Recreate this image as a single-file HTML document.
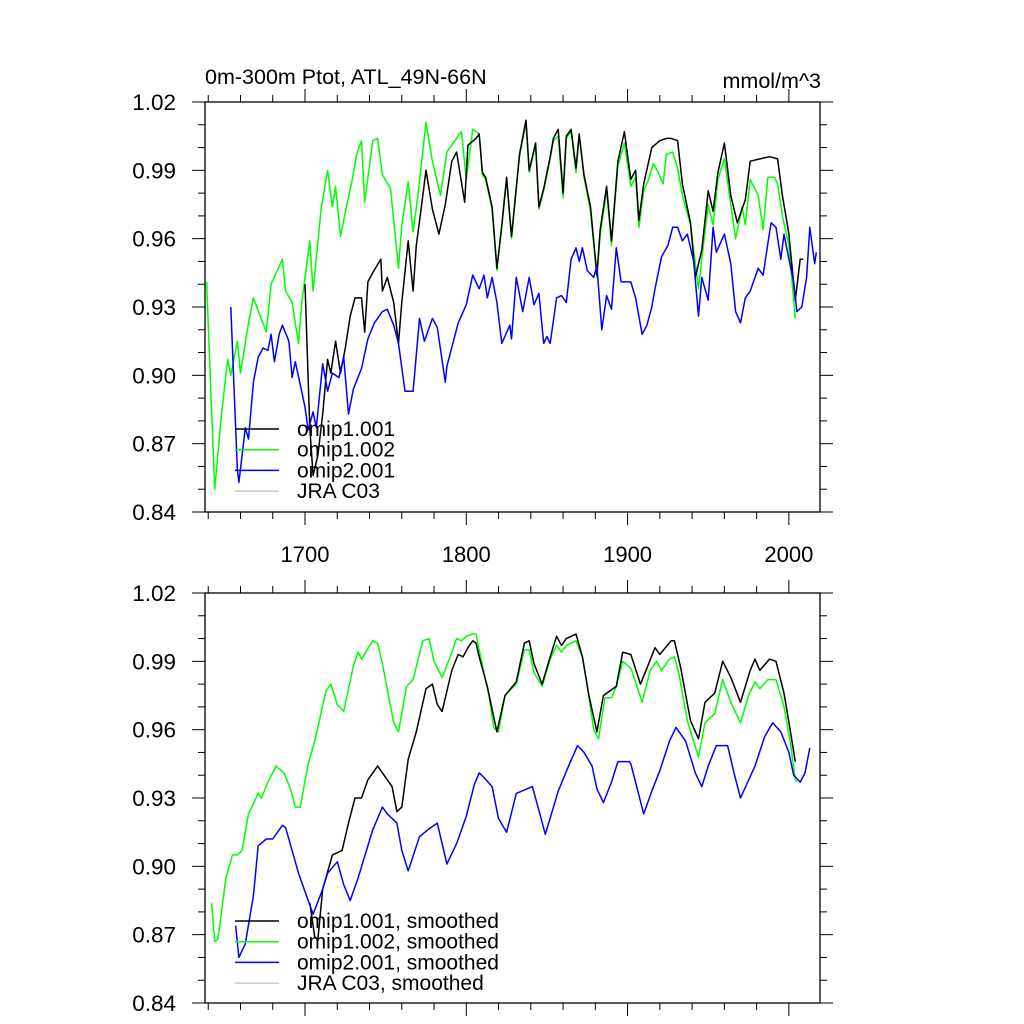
<!DOCTYPE html>
<html><head><meta charset="utf-8">
<style>
html,body{margin:0;padding:0;background:#fff;}
svg{display:block;font-family:"Liberation Sans",Arial,sans-serif;}
</style></head>
<body>
<svg id="chart" width="1024" height="1024" viewBox="0 0 1024 1024">
<text x="205" y="84" font-size="21.5">0m-300m Ptot, ATL_49N-66N</text>
<text x="821" y="88" font-size="21.5" text-anchor="end">mmol/m^3</text>
<g id="top"></g>
<g id="bot"></g>
</svg>
<script>
const yTicks=[0.84,0.87,0.90,0.93,0.96,0.99,1.02];
const yTickLabels=["0.84","0.87","0.90","0.93","0.96","0.99","1.02"];
const xTicks=[1700,1800,1900,2000];
const xTickLabels=["1700","1800","1900","2000"];

const topGreenYears=[1639,1644,1648,1652,1654,1658,1660,1665,1668,1676,1679,1686,1688,1692,1696,1698,1703,1705,1710,1714,1717,1719,1722,1726,1729,1732,1735,1737,1742,1745,1748,1753,1758,1760,1764,1767,1770,1775,1779,1784,1788,1793,1797,1800,1804,1808,1810,1812,1816,1819,1822,1825,1828,1833,1837,1839,1843,1845,1848,1852,1854,1857,1860,1862,1865,1868,1870,1873,1877,1881,1883,1887,1890,1894,1898,1902,1905,1907,1910,1913,1916,1919,1922,1924,1928,1931,1934,1939,1944,1946,1950,1953,1956,1960,1964,1967,1971,1973,1976,1981,1984,1987,1991,1993,1996,2000,2004];
const topGreenVals=[.941,.850,.881,.907,.900,.915,.901,.923,.934,.919,.940,.951,.937,.932,.914,.932,.959,.937,.973,.990,.974,.983,.961,.975,.985,.997,1.003,.976,1.003,1.004,.988,.982,.947,.966,.985,.963,.979,1.011,.994,.979,.998,1.003,1.007,.986,1.008,1.006,.988,.986,.973,.946,.965,.986,.960,.996,1.011,.989,1.001,.973,.981,.995,1.003,1.005,.978,1.004,1.007,.989,1.005,.987,.972,.943,.962,.981,.957,.992,1.002,.983,.987,.965,.981,.986,.993,.989,.984,.997,.998,.991,.979,.966,.938,.951,.975,.966,.986,.995,.975,.960,.974,.966,.986,.979,.964,.987,.987,.984,.970,.957,.925];

const topBlackYears=[1700,1703,1705,1708,1711,1714,1716,1719,1722,1725,1728,1731,1735,1737,1739,1742,1747,1748,1751,1755,1758,1760,1764,1767,1769,1772,1775,1779,1783,1787,1791,1794,1799,1801,1806,1808,1810,1812,1816,1819,1822,1825,1828,1833,1837,1839,1843,1845,1848,1852,1854,1857,1860,1862,1865,1868,1870,1873,1877,1881,1883,1887,1890,1894,1898,1902,1905,1907,1910,1915,1920,1924,1927,1931,1934,1939,1942,1946,1950,1953,1956,1960,1964,1968,1973,1976,1982,1988,1993,1996,2000,2004,2007,2009];
const topBlackVals=[.940,.877,.856,.865,.883,.907,.901,.915,.901,.912,.926,.934,.934,.919,.941,.945,.951,.937,.943,.932,.914,.932,.959,.937,.957,.973,.990,.973,.962,.975,.994,.998,.976,1.001,1.004,1.006,.989,.987,.974,.947,.966,.987,.961,.997,1.012,.990,1.002,.974,.982,.996,1.004,1.008,.980,1.005,1.008,.991,1.006,.988,.974,.944,.964,.983,.959,.994,1.007,.986,.990,.968,.984,1.000,1.003,1.004,1.004,1.003,.984,.967,.943,.955,.981,.972,.989,1.002,.979,.967,.977,.994,.995,.996,.995,.979,.962,.933,.951,.951];

const topBlueYears=[1654,1658,1659,1663,1665,1668,1671,1674,1677,1679,1681,1684,1686,1690,1692,1694,1697,1700,1702,1705,1707,1711,1714,1717,1721,1724,1727,1730,1735,1739,1743,1748,1751,1755,1758,1762,1767,1771,1774,1779,1782,1787,1788,1795,1800,1804,1808,1811,1813,1816,1819,1822,1827,1828,1831,1835,1839,1842,1845,1848,1850,1852,1856,1859,1862,1865,1868,1870,1872,1875,1879,1881,1884,1887,1890,1893,1896,1902,1905,1909,1912,1915,1917,1921,1925,1928,1931,1934,1937,1941,1944,1946,1950,1953,1955,1960,1964,1967,1970,1973,1976,1981,1984,1987,1989,1992,1995,1997,2000,2003,2005,2008,2011,2013,2016,2017];
const topBlueVals=[.930,.859,.853,.877,.872,.897,.908,.912,.911,.918,.906,.918,.922,.915,.899,.906,.896,.886,.876,.884,.877,.905,.893,.901,.899,.908,.883,.894,.903,.916,.923,.928,.929,.922,.914,.893,.893,.925,.915,.925,.921,.897,.904,.923,.931,.944,.938,.944,.934,.943,.932,.914,.922,.916,.943,.928,.943,.931,.936,.914,.917,.914,.934,.935,.932,.951,.956,.950,.956,.946,.943,.948,.920,.935,.929,.956,.941,.941,.934,.918,.922,.930,.938,.952,.957,.965,.965,.959,.962,.950,.926,.943,.933,.965,.954,.962,.949,.928,.923,.934,.937,.947,.944,.958,.967,.965,.951,.962,.951,.941,.928,.930,.943,.965,.949,.954];

const botGreenYears=[1642,1644,1646,1651,1655,1658,1661,1665,1671,1673,1677,1682,1687,1691,1694,1697,1702,1706,1713,1716,1720,1724,1730,1733,1735,1742,1745,1748,1755,1758,1763,1767,1773,1777,1780,1785,1790,1794,1797,1800,1804,1806,1808,1811,1814,1817,1820,1824,1828,1831,1836,1839,1842,1847,1852,1856,1859,1862,1868,1872,1875,1879,1882,1886,1890,1893,1897,1902,1905,1909,1914,1918,1921,1926,1929,1932,1937,1944,1948,1954,1959,1964,1970,1975,1979,1982,1987,1992,1997,2001,2004,2005];
const botGreenVals=[.884,.867,.868,.895,.905,.905,.907,.923,.932,.930,.937,.944,.941,.934,.926,.926,.945,.955,.977,.980,.971,.968,.988,.994,.991,.999,.998,.989,.963,.959,.979,.982,.999,1.000,.990,.983,.992,1.000,.999,1.001,1.002,1.002,.995,.985,.975,.961,.959,.975,.978,.980,.995,.995,.985,.979,.991,.997,.994,.997,.999,.992,.979,.960,.956,.974,.974,.979,.990,.987,.981,.972,.986,.990,.986,.991,.992,.984,.964,.948,.963,.967,.982,.972,.963,.975,.981,.978,.982,.982,.970,.954,.938,.937];

const botBlackYears=[1703,1706,1708,1711,1717,1723,1727,1731,1735,1739,1745,1748,1754,1757,1760,1764,1769,1775,1779,1782,1785,1791,1795,1798,1801,1804,1806,1808,1813,1819,1824,1831,1836,1839,1842,1847,1852,1856,1859,1862,1868,1872,1876,1881,1885,1893,1897,1902,1908,1912,1917,1920,1927,1929,1933,1939,1944,1948,1954,1959,1964,1970,1976,1979,1982,1988,1992,1997,2001,2004];
const botBlackVals=[.884,.869,.868,.890,.905,.907,.919,.930,.930,.938,.944,.941,.935,.924,.926,.947,.959,.978,.980,.971,.968,.986,.993,.992,.996,.999,.998,.992,.979,.959,.975,.981,.998,.999,.989,.980,.992,1.001,.997,1.000,1.002,.992,.975,.959,.975,.979,.994,.993,.980,.987,.996,.993,.999,.999,.987,.964,.956,.972,.976,.990,.983,.972,.986,.991,.986,.991,.990,.976,.959,.946];

const botBlueYears=[1657,1659,1663,1668,1671,1676,1680,1686,1688,1692,1696,1702,1705,1711,1714,1720,1724,1728,1733,1742,1748,1751,1757,1760,1764,1771,1776,1782,1785,1788,1794,1800,1805,1808,1811,1816,1820,1825,1831,1841,1846,1849,1857,1864,1869,1873,1878,1881,1885,1890,1894,1901,1902,1906,1910,1915,1920,1926,1930,1936,1942,1946,1950,1955,1962,1966,1970,1979,1985,1990,1995,2000,2003,2007,2010,2013];
const botBlueVals=[.874,.860,.866,.887,.909,.912,.912,.918,.917,.907,.897,.885,.879,.890,.897,.902,.892,.885,.895,.916,.926,.923,.919,.907,.898,.913,.916,.919,.910,.901,.910,.922,.936,.941,.939,.935,.921,.915,.932,.935,.922,.914,.933,.945,.953,.950,.944,.934,.928,.937,.946,.946,.945,.934,.923,.933,.942,.955,.961,.955,.941,.935,.944,.953,.953,.941,.930,.944,.957,.963,.959,.950,.940,.937,.941,.952];

const topLegend=["omip1.001","omip1.002","omip2.001","JRA C03"];
const botLegend=["omip1.001, smoothed","omip1.002, smoothed","omip2.001, smoothed","JRA C03, smoothed"];
const legendColors=["#000000","#00ff00","#0000ff","#c8c8c8"];

const NS="http://www.w3.org/2000/svg";
const X0=205,X1=820,YR0=1638,YR1=2019.3;
function xs(yr){return X0+(yr-YR0)/(YR1-YR0)*(X1-X0);}
function mk(tag,attrs,parent){const e=document.createElementNS(NS,tag);for(const k in attrs)e.setAttribute(k,attrs[k]);parent.appendChild(e);return e;}

function panel(g,top,bottom,showX,series,legend,legTop){
  const ys=v=>top+(1.02-v)/(1.02-0.84)*(bottom-top);
  const ax=mk('g',{},g);
  
  
  for(let i=0;i<=18;i++){
    const v=0.84+i*0.01, y=ys(v), major=(i%3===0);
    const L=major?13:7;
    const t1=mk('line',{x1:X0-L,y1:y,x2:X0,y2:y,stroke:'#000','stroke-width':1},ax);
    
    
    const t2=mk('line',{x1:X1,y1:y,x2:X1+L,y2:y,stroke:'#000','stroke-width':1},ax);
    
    
  }
  yTicks.forEach((v,i)=>{
    const t=mk('text',{x:176,y:ys(v)+8,'font-size':22.5,'text-anchor':'end'},ax);
    t.textContent=yTickLabels[i];
    
    
  });
  for(let yr=1640;yr<=2000;yr+=20){
    const x=xs(yr), major=(yr%100===0), L=major?13:7;
    const a=mk('line',{x1:x,y1:bottom,x2:x,y2:bottom+L,stroke:'#000','stroke-width':1},ax);
    
    
    const b=mk('line',{x1:x,y1:top-L,x2:x,y2:top,stroke:'#000','stroke-width':1},ax);
    
    
  }
  if(showX){
    xTicks.forEach((yr,i)=>{
      const t=mk('text',{x:xs(yr),y:bottom+50,'font-size':22,'text-anchor':'middle'},ax);
      t.textContent=xTickLabels[i];
      
      
    });
  }
  series.forEach(s=>{
    let d='';
    s.years.forEach((yr,i)=>{d+=(i?'L':'M')+xs(yr).toFixed(1)+','+ys(s.vals[i]).toFixed(1);});
    const p=mk('path',{d:d,fill:'none',stroke:s.color,'stroke-width':1.5,'stroke-linejoin':'round'},g);
    
    
  });
  const fr=mk('rect',{x:X0,y:top,width:X1-X0,height:bottom-top,fill:'none',stroke:'#000','stroke-width':1.3},g);
  
  
  legend.forEach((lab,i)=>{
    const y=legTop+i*20.7;
    const ln=mk('line',{x1:235,y1:y,x2:279,y2:y,stroke:legendColors[i],'stroke-width':1.5},g);
    
    
    const t=mk('text',{x:297,y:y+7,'font-size':21},g);
    t.textContent=lab;
    
    
  });
}
panel(document.getElementById('top'),102,512,true,[
  {years:topGreenYears,vals:topGreenVals,color:'#00ff00',name:'omip1-002-line'},
  {years:topBlackYears,vals:topBlackVals,color:'#000000',name:'omip1-001-line'},
  {years:topBlueYears,vals:topBlueVals,color:'#0000ff',name:'omip2-001-line'}
],topLegend,429);
panel(document.getElementById('bot'),593,1003,false,[
  {years:botGreenYears,vals:botGreenVals,color:'#00ff00',name:'omip1-002-smoothed-line'},
  {years:botBlackYears,vals:botBlackVals,color:'#000000',name:'omip1-001-smoothed-line'},
  {years:botBlueYears,vals:botBlueVals,color:'#0000ff',name:'omip2-001-smoothed-line'}
],botLegend,921);
</script>
</body></html>
